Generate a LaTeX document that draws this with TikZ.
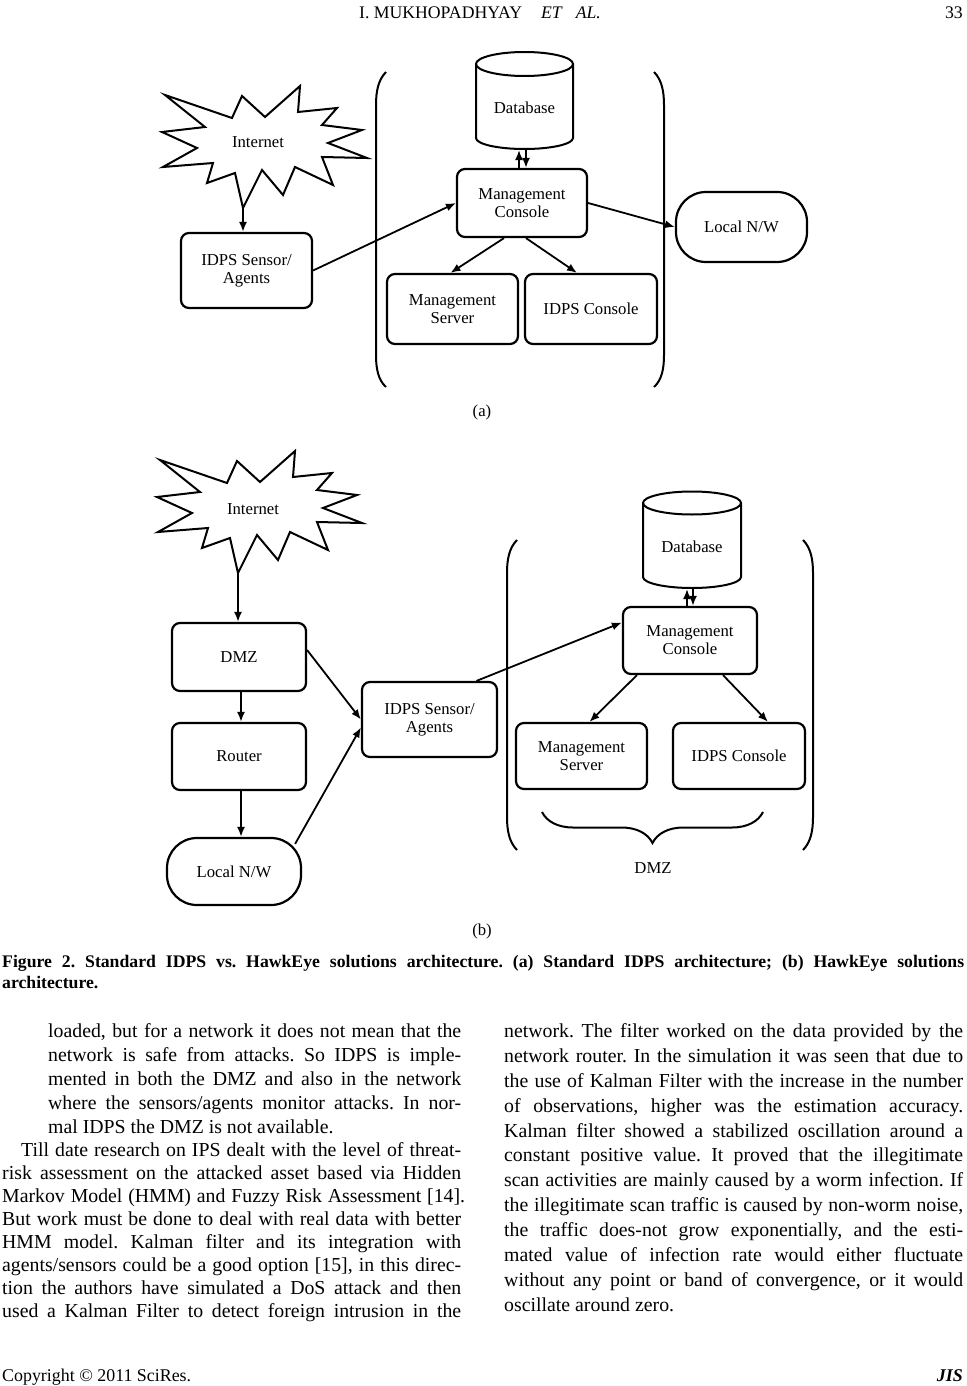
\documentclass[tikz,border=0pt]{standalone}
\usepackage{fontspec}
\setmainfont{Liberation Serif}
\usetikzlibrary{arrows.meta,decorations.pathreplacing}
\frenchspacing
\newcommand{\bodytxt}{\fontsize{19.8}{24}\selectfont}
\newcommand{\captxt}{\fontsize{17.7}{21}\selectfont\bfseries}
\newcommand{\diagtxt}{\fontsize{16.7}{18}\selectfont}
\newcommand{\headtxt}{\fontsize{17.7}{21}\selectfont}

\begin{document}
\begin{tikzpicture}[x=1pt,y=-1pt,
  box/.style={draw,line width=2.2pt,rounded corners=8pt,inner sep=0pt,align=center,font=\diagtxt},
  lanbox/.style={box,rounded corners=30pt},
  arr/.style={line width=1.8pt,-{Latex[length=10pt,width=8pt]}},
  edge/.style={line width=2pt},
  lbl/.style={inner sep=0pt,font=\diagtxt},
  ln/.style={anchor=base west,inner sep=0pt,font=\bodytxt}]
\useasboundingbox (0,0) rectangle (966,1386);
% page head
\node[anchor=base,inner sep=0pt,font=\headtxt] (head) at (480,19) {I. MUKHOPADHYAY\hspace{19pt}\textit{ET}\hspace{13pt}\textit{AL.}};
\node[anchor=base east,inner sep=0pt,font=\headtxt] (pagenum) at (963,19) {33};
% the two internet clouds
\foreach \dx/\dy in {0/0,-5/365}
  \draw[edge,shift={(\dx,\dy)}] (165,95)--(232,118)--(242,96)--(265,117)--(300,86)--(298,112)--(337,108)--(322,125)--(362,130)--(328,143)--(367,158)--(322,157)--(333,185)--(295,167)--(283,195)--(262,170)--(243,208)--(235,173)--(207,183)--(213,163)--(163,167)--(197,148)--(162,132)--(205,127)--cycle;
% (a) standard IDPS
\node[lbl] (inetA) at (258,142) {Internet};
\coordinate (inetAtip) at (243,208);
\node[box,minimum width=131pt,minimum height=75pt] (sensorA) at (246.5,270.5) {IDPS Sensor/\\Agents};
\draw[edge] (386,72) .. controls (378,80) and (376,92) .. (376,105) -- (376,355) .. controls (376,368) and (378,380) .. (386,387);
\draw[edge] (654,72) .. controls (662,80) and (664,92) .. (664,105) -- (664,355) .. controls (664,368) and (662,380) .. (654,387);
\draw[edge] (476,64) -- (476,138) arc[start angle=180,end angle=0,x radius=48.5,y radius=11] -- (573,64);
\draw[edge] (524.5,64) ellipse [x radius=48.5,y radius=12];
\node[lbl] (dbA) at (524.5,108) {Database};
\coordinate (dbAb) at (524.5,150);
\node[box,minimum width=130pt,minimum height=68pt] (mconA) at (522,203) {Management\\Console};
\node[lanbox,minimum width=131pt,minimum height=70pt] (lanA) at (741.5,227) {Local N/W};
\node[box,minimum width=131pt,minimum height=70pt] (mserverA) at (452.5,309) {Management\\Server};
\node[box,minimum width=132pt,minimum height=70pt] (iconA) at (591,309) {IDPS Console};
\draw[arr] (inetAtip) -- (inetAtip |- sensorA.north);
\draw[arr] (sensorA.east) -- (mconA.west);
\draw[arr] (mconA.east) -- (lanA.west);
\draw[arr] ([xshift=-3pt]mconA.north) -- ([xshift=-5.5pt]dbAb);
\draw[arr] ([xshift=1.5pt]dbAb) -- ([xshift=4pt]mconA.north);
\draw[arr] ([xshift=-18pt]mconA.south) -- ([xshift=-2pt]mserverA.north);
\draw[arr] ([xshift=4pt]mconA.south) -- ([xshift=-14pt]iconA.north);
\node[lbl] (capA) at (482,412) {(a)};
% (b) HawkEye
\node[lbl] (inetB) at (253,509) {Internet};
\coordinate (inetBtip) at (238,573);
\node[box,minimum width=134pt,minimum height=68pt] (dmzB) at (239,657) {DMZ};
\node[box,minimum width=134pt,minimum height=67pt] (routerB) at (239,756.5) {Router};
\node[lanbox,minimum width=134pt,minimum height=67pt] (lanB) at (234,871.5) {Local N/W};
\node[box,minimum width=135pt,minimum height=75pt] (sensorB) at (429.5,719.5) {IDPS Sensor/\\Agents};
\draw[edge] (517,540) .. controls (509,548) and (507,560) .. (507,573) -- (507,817) .. controls (507,830) and (509,842) .. (517,850);
\draw[edge] (803,540) .. controls (811,548) and (813,560) .. (813,573) -- (813,817) .. controls (813,830) and (811,842) .. (803,850);
\draw[edge] (643,503) -- (643,577) arc[start angle=180,end angle=0,x radius=49,y radius=11] -- (741,503);
\draw[edge] (692,503) ellipse [x radius=49,y radius=11.5];
\node[lbl] (dbB) at (692,547) {Database};
\coordinate (dbBb) at (692,589);
\node[box,minimum width=134pt,minimum height=67pt] (mconB) at (690,640.5) {Management\\Console};
\node[box,minimum width=131pt,minimum height=66pt] (mserverB) at (581.5,756) {Management\\Server};
\node[box,minimum width=132pt,minimum height=66pt] (iconB) at (739,756) {IDPS Console};
\draw[edge,decorate,decoration={brace,mirror,amplitude=31pt}] (542,812) -- (763,812);
\node[lbl] (dmzlbl) at (653,868) {DMZ};
\draw[arr] (inetBtip) -- (inetBtip |- dmzB.north);
\draw[arr] ([xshift=2pt]dmzB.south) -- ([xshift=2pt]routerB.north);
\draw[arr] ([xshift=2pt]routerB.south) -- ([xshift=7pt]lanB.north);
\draw[arr] ([yshift=7pt]dmzB.east) -- (sensorB.west);
\draw[arr] ([shift={(-7pt,-7pt)}]lanB.north east) -- ([yshift=-8pt]sensorB.west);
\draw[arr] ([xshift=47pt]sensorB.north) -- ([yshift=18pt]mconB.west);
\draw[arr] ([xshift=-3pt]mconB.north) -- ([xshift=-5pt]dbBb);
\draw[arr] ([xshift=1pt]dbBb) -- ([xshift=3pt]mconB.north);
\draw[arr] ([xshift=-53pt]mconB.south) -- ([xshift=8pt]mserverB.north);
\draw[arr] ([xshift=33pt]mconB.south) -- ([xshift=29pt]iconB.north);
\node[lbl] (capB) at (482,931) {(b)};
% caption
\node[ln,font=\captxt] (cap1) at (2,967) {\makebox[962pt][s]{Figure 2. Standard IDPS vs. HawkEye solutions architecture. (a) Standard IDPS architecture; (b) HawkEye solutions}};
\node[ln,font=\captxt] (cap2) at (2,988) {architecture.};
% left column
\node[ln] (la1) at (48,1037) {\makebox[413pt][s]{loaded, but for a network it does not mean that the}};
\node[ln] (la2) at (48,1061) {\makebox[413pt][s]{network is safe from attacks. So IDPS is imple-}};
\node[ln] (la3) at (48,1085) {\makebox[413pt][s]{mented in both the DMZ and also in the network}};
\node[ln] (la4) at (48,1109) {\makebox[413pt][s]{where the sensors/agents monitor attacks. In nor-}};
\node[ln] (la5) at (48,1133) {mal IDPS the DMZ is not available.};
\node[ln] (lb1) at (21,1156) {\makebox[440pt][s]{Till date research on IPS dealt with the level of threat-}};
\node[ln] (lb2) at (2,1179) {\makebox[459pt][s]{risk assessment on the attacked asset based via Hidden}};
\node[ln] (lb3) at (2,1202) {\makebox[463pt][s]{Markov Model (HMM) and Fuzzy Risk Assessment [14].}};
\node[ln] (lb4) at (2,1225) {\makebox[459pt][s]{But work must be done to deal with real data with better}};
\node[ln] (lb5) at (2,1248) {\makebox[459pt][s]{HMM model. Kalman filter and its integration with}};
\node[ln] (lb6) at (2,1271) {\makebox[459pt][s]{agents/sensors could be a good option [15], in this direc-}};
\node[ln] (lb7) at (2,1294) {\makebox[459pt][s]{tion the authors have simulated a DoS attack and then}};
\node[ln] (lb8) at (2,1317) {\makebox[459pt][s]{used a Kalman Filter to detect foreign intrusion in the}};
% right column
\node[ln] (r1) at (504,1037) {\makebox[459pt][s]{network. The filter worked on the data provided by the}};
\node[ln] (r2) at (504,1062) {\makebox[459pt][s]{network router. In the simulation it was seen that due to}};
\node[ln] (r3) at (504,1087) {\makebox[459pt][s]{the use of Kalman Filter with the increase in the number}};
\node[ln] (r4) at (504,1112) {\makebox[459pt][s]{of observations, higher was the estimation accuracy.}};
\node[ln] (r5) at (504,1137) {\makebox[459pt][s]{Kalman filter showed a stabilized oscillation around a}};
\node[ln] (r6) at (504,1161) {\makebox[459pt][s]{constant positive value. It proved that the illegitimate}};
\node[ln] (r7) at (504,1186) {\makebox[459pt][s]{scan activities are mainly caused by a worm infection. If}};
\node[ln] (r8) at (504,1211) {\makebox[459pt][s]{the illegitimate scan traffic is caused by non-worm noise,}};
\node[ln] (r9) at (504,1236) {\makebox[459pt][s]{the traffic does-not grow exponentially, and the esti-}};
\node[ln] (r10) at (504,1261) {\makebox[459pt][s]{mated value of infection rate would either fluctuate}};
\node[ln] (r11) at (504,1286) {\makebox[459pt][s]{without any point or band of convergence, or it would}};
\node[ln] (r12) at (504,1311) {oscillate around zero.};
% foot
\node[ln,font=\fontsize{17.9}{21}\selectfont] (foot) at (2,1381) {Copyright © 2011 SciRes.};
\node[anchor=base east,inner sep=0pt,font=\fontsize{17.9}{21}\selectfont\bfseries\itshape] (journal) at (963,1381) {JIS};
\end{tikzpicture}
\end{document}
